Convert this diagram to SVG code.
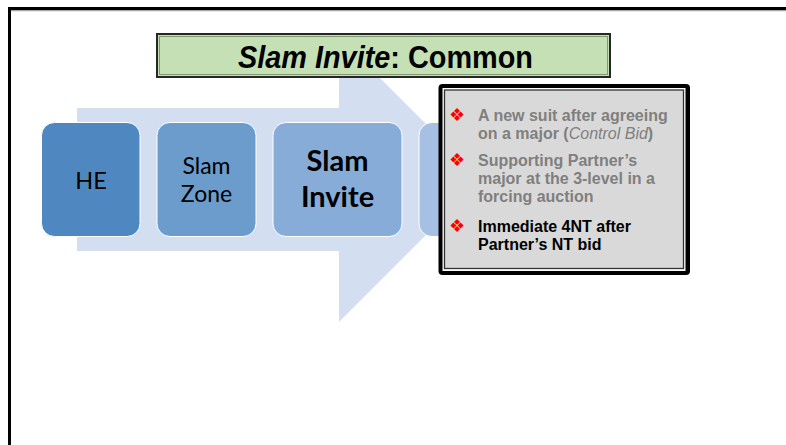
<svg xmlns="http://www.w3.org/2000/svg" width="786" height="445" viewBox="0 0 786 445">
<style>
.box{stroke:#ffffff;stroke-width:1}
.lbl{font-family:Lato,"Open Sans",sans-serif;fill:#000;text-anchor:middle}
.bt{font-family:"Liberation Sans",Arial,sans-serif;font-size:16px;font-weight:bold}
.g{fill:#7f7f7f}
.k{fill:#000}
.bul{font-family:"DejaVu Sans",sans-serif;font-size:18px;fill:#ff0000}
</style>
<rect x="0" y="0" width="786" height="445" fill="#ffffff"/>
<g id="frame">
<line x1="11" y1="10.6" x2="786" y2="10.6" stroke="#a6a6a6" stroke-width="1.2"/>
<path d="M9.5 445 V8.5 H786" fill="none" stroke="#000" stroke-width="3"/>
</g>
<g id="arrow">
<polygon points="77,108 339,108 339,37 481.5,179.5 339,322 339,251 77,251" fill="#d3dff0"/>
</g>
<g id="connectors"></g>
<g id="node-he">
<rect class="box" x="41.5" y="122.5" width="98.5" height="114" rx="13" fill="#4f88c0"/>
<text class="lbl" x="91" y="188.5" font-size="23.5">HE</text>
</g>
<g id="node-slamzone">
<rect class="box" x="157" y="122.5" width="99" height="114" rx="13" fill="#6b9ccc"/>
<text class="lbl" font-size="23"><tspan x="206.5" y="173.5">Slam</tspan><tspan x="206.5" y="201.5">Zone</tspan></text>
</g>
<g id="node-slaminvite">
<rect class="box" x="273" y="122.5" width="129" height="114" rx="13" fill="#87acd7"/>
<text class="lbl" font-size="29" font-weight="bold"><tspan x="337.5" y="171">Slam</tspan><tspan x="337.5" y="207">Invite</tspan></text>
</g>
<g id="node-fourth">
<rect class="box" x="419" y="122.5" width="129" height="114" rx="13" fill="#a5c0e2"/>
</g>
<g id="title">
<rect x="157" y="34" width="453" height="43" fill="#c5e0b4" stroke="#262626" stroke-width="2"/>
<rect x="159.5" y="36.5" width="448" height="38" fill="none" stroke="#7f9a6f" stroke-width="1"/>
<text x="238" y="68" font-family="'Liberation Sans',Arial,sans-serif" font-size="31" font-weight="bold" fill="#000" textLength="295" lengthAdjust="spacingAndGlyphs"><tspan font-style="italic">Slam Invite</tspan>: Common</text>
</g>
<g id="textbox">
<rect x="438.5" y="84" width="251.5" height="191" rx="4" fill="#000"/>
<rect x="442.5" y="88" width="243" height="183" fill="#ffffff"/>
<rect x="444.5" y="90" width="239" height="178.5" fill="#d9d9d9" stroke="#333" stroke-width="1.3"/>
<text class="bul" x="449" y="121">❖</text>
<text class="bul" x="449" y="166">❖</text>
<text class="bul" x="449" y="232">❖</text>
<text class="bt g" x="478" y="121">A new suit after agreeing</text>
<text class="bt g" x="478" y="139">on a major (<tspan font-style="italic" font-weight="normal">Control Bid</tspan>)</text>
<text class="bt g" x="478" y="166">Supporting Partner’s</text>
<text class="bt g" x="478" y="184">major at the 3-level in a</text>
<text class="bt g" x="478" y="202">forcing auction</text>
<text class="bt k" x="478" y="232">Immediate 4NT after</text>
<text class="bt k" x="478" y="250">Partner’s NT bid</text>
</g>
</svg>
